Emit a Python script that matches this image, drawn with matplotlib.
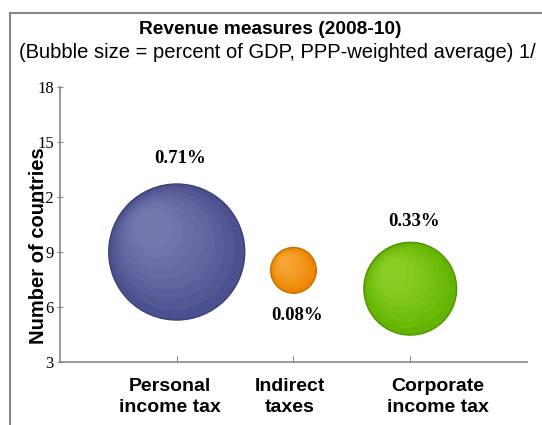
import numpy as np
import matplotlib.pyplot as plt
import matplotlib.transforms as mtransforms
from matplotlib.lines import Line2D

# Revenue measures (2008-10), bubble size = percent of GDP
categories = ['Personal\nincome tax', 'Indirect\ntaxes', 'Corporate\nincome tax']
countries = [9, 8, 7]
gdp_pct = [0.71, 0.08, 0.33]
labels = ['0.71%', '0.08%', '0.33%']
colors = ['#4b508f', '#ec8400', '#62b400']
highlights = ['#9094c8', '#ffbe55', '#a6e040']
edges = ['#3c4078', '#c86e00', '#4e9400']
yticks = [3, 6, 9, 12, 15, 18]

DPI = 100
fig = plt.figure(figsize=(5.42, 4.25), dpi=DPI)
ax = fig.add_axes([0.1107, 0.1482, 0.8616, 0.6471])

x = np.arange(1, len(categories) + 1)
# area proportional to percent of GDP; 0.71% -> radius ~68 px
scale = (2 * 68 * 72 / DPI) ** 2 / 0.71
sizes = np.array(gdp_pct) * scale

ax.scatter(x, countries, s=sizes, c=colors, edgecolors=edges,
           linewidths=1.0, zorder=3)
# soft highlight towards the upper left to fake the 3D look
radii_pt = np.sqrt(sizes) / 2
for k in range(1, 8):
    frac = 1 - k * 0.1
    for xi, yi, r, hc in zip(x, countries, radii_pt, highlights):
        shift = r * (1 - frac) * 0.5 / 72
        off = mtransforms.ScaledTranslation(-shift, shift, fig.dpi_scale_trans)
        ax.scatter([xi], [yi], s=(2 * r * frac) ** 2, c=hc, alpha=0.12,
                   edgecolors='none', zorder=4,
                   transform=ax.transData + off)

# value labels
label_y = [14.1, 5.55, 10.65]
for xi, yl, txt in zip(x, label_y, labels):
    ax.text(xi + 0.03, yl, txt, ha='center', va='center', fontsize=13.5,
            fontweight='bold', family='Liberation Serif', zorder=5)

ax.set_xlim(0, 4)
ax.set_ylim(3, 18)
ax.set_xticks(x)
ax.set_xticklabels([])
# category labels sit a little off their ticks in the original
label_shift_px = [-7, -4, 28]
base = mtransforms.blended_transform_factory(ax.transData, ax.transAxes)
for xi, cat, dx in zip(x, categories, label_shift_px):
    off = mtransforms.ScaledTranslation(dx / DPI, -35 / DPI,
                                        fig.dpi_scale_trans)
    ax.text(xi, 0, cat, transform=base + off, ha='center', va='center',
            fontsize=14, fontweight='bold', family='Liberation Sans',
            linespacing=1.25, clip_on=False)

ax.set_yticks(yticks)
ax.set_yticklabels([str(t) for t in yticks], fontsize=12,
                   family='Liberation Serif')
ax.tick_params(axis='x', direction='in', length=4, color='#888888')
ax.tick_params(axis='y', direction='inout', length=5, color='#888888', pad=2)
for side in ['top', 'right']:
    ax.spines[side].set_visible(False)
for side in ['left', 'bottom']:
    ax.spines[side].set_color('#888888')
    ax.spines[side].set_linewidth(1.2)

fig.text(39 / 542, 1 - 246 / 425, 'Number of countries', rotation=90,
         ha='center', va='center', fontsize=14.5, fontweight='bold',
         family='Liberation Sans')

fig.text(270 / 542, 1 - 30 / 425, 'Revenue measures (2008-10)',
         ha='center', va='center', fontsize=13.8, fontweight='bold',
         family='Liberation Sans')
fig.text(277 / 542, 1 - 52 / 425,
         '(Bubble size = percent of GDP, PPP-weighted average) 1/',
         ha='center', va='center', fontsize=14.5, family='Liberation Sans')

# outer frame (top and left edges visible)
fig.add_artist(Line2D([10 / 542, 1], [1 - 13 / 425] * 2, color='#888888',
                      lw=1.5, transform=fig.transFigure))
fig.add_artist(Line2D([10 / 542] * 2, [0, 1 - 13 / 425], color='#888888',
                      lw=1.5, transform=fig.transFigure))

fig.savefig('out.png', dpi=DPI)
